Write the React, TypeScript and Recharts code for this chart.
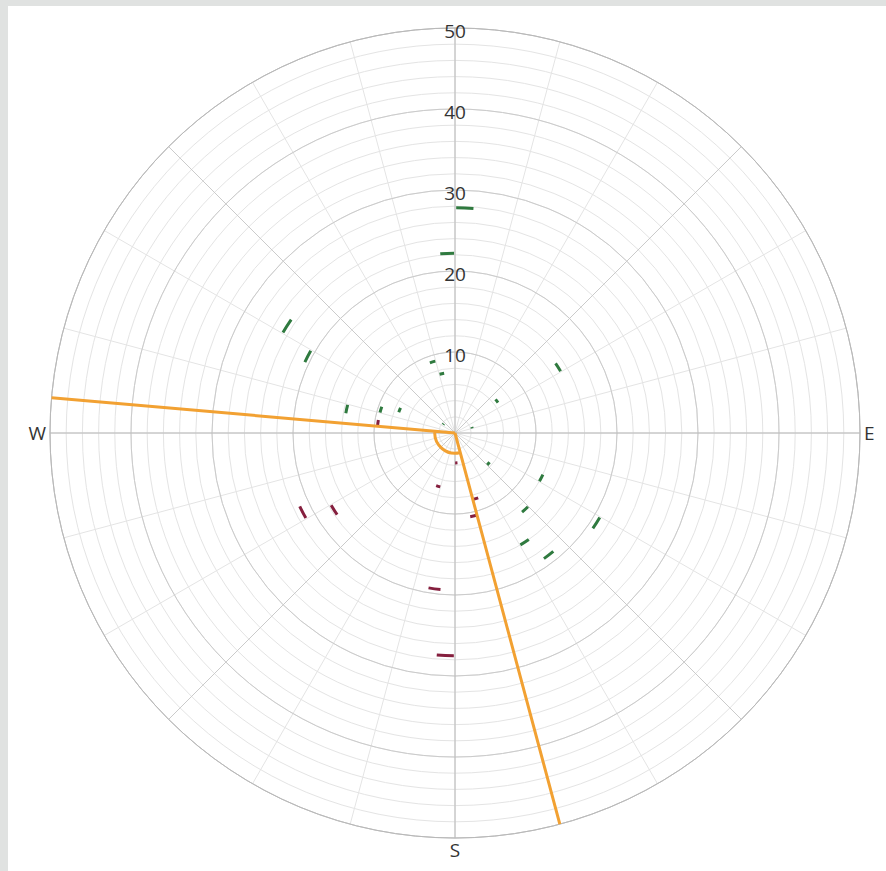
import React from 'react';
import { RadarChart, Radar, PolarGrid, PolarAngleAxis, PolarRadiusAxis } from 'recharts';

// 5-degree direction bins, compass degrees (0 = north, clockwise)
const BIN_WIDTH = 5;
const BINS = Array.from({ length: 360 / BIN_WIDTH }, (_, i) => i * BIN_WIDTH);

const GREEN_BINS = [0, 355, 300, 295, 280, 285, 290, 340, 345, 55, 50, 130, 115, 135, 145, 140, 120, 70, 305];
const GREEN_VALUES = [27.8, 22.2, 24.6, 20.5, 13.7, 9.6, 7.4, 9.2, 7.5, 15.1, 6.5, 5.6, 12.0, 12.8, 16.0, 19.0, 20.7, 2.2, 1.8];

const RED_BINS = [275, 160, 165, 195, 175, 240, 235, 185, 180];
const RED_VALUES = [9.6, 8.5, 10.5, 6.9, 3.7, 21.2, 17.7, 19.4, 27.5];

const SECTOR_EDGES = [165, 275];
const SECTOR_REACH = 50;
const SECTOR_ARC = 2.5;

const MAX_RADIUS = 50;
const RADIUS_TICKS = [0, 2, 4, 6, 8, 10, 12, 14, 16, 18, 20, 22, 24, 26, 28, 30, 32, 34, 36, 38, 40, 42, 44, 46, 48, 50];
const RADIUS_LABELS = [10, 20, 30, 40, 50];
const COMPASS_LABELS: Record<number, string> = { 90: 'E', 180: 'S', 270: 'W' };

const MINOR_ANGLES = Array.from({ length: 24 }, (_, i) => i * 15);
const MAJOR_ANGLES = [45, 135, 225, 315];
const CARDINAL_ANGLES = [0, 90, 180, 270];
const MAJOR_RADII = [10, 20, 30, 40, 50];

const GREEN = '#2f7a3f';
const RED = '#851f3e';
const ORANGE = '#f2a132';
const FONT = '"Open Sans", "Noto Sans", sans-serif';

const W = 878;
const H = 865;
const CX = 447;
const CY = 427;
const R = 405;

const data = BINS.map((bin) => {
  const g = GREEN_BINS.indexOf(bin);
  const r = RED_BINS.indexOf(bin);
  return {
    bin,
    green: g >= 0 ? GREEN_VALUES[g] : null,
    red: r >= 0 ? RED_VALUES[r] : null,
    sector: SECTOR_EDGES.includes(bin) ? SECTOR_REACH : null,
  };
});

const RAD = Math.PI / 180;
const polar = (cx: number, cy: number, r: number, a: number) => ({
  x: cx + r * Math.cos(-a * RAD),
  y: cy + r * Math.sin(-a * RAD),
});

// compass degrees -> recharts degrees (counter-clockwise from east)
const toChart = (deg: number) => 90 - deg;
const px = (v: number) => (v / MAX_RADIUS) * R;

function markShape(color: string) {
  return (props: any) => {
    const pts = (props.points || []).filter((p: any) => p.value != null && Number.isFinite(p.radius));
    return (
      <g>
        {pts.map((p: any, i: number) => {
          const a = polar(p.cx, p.cy, p.radius, p.angle - 0.3);
          const b = polar(p.cx, p.cy, p.radius, p.angle - BIN_WIDTH + 0.3);
          return (
            <path
              key={i}
              d={`M${a.x},${a.y} A${p.radius},${p.radius} 0 0 1 ${b.x},${b.y}`}
              stroke={color}
              strokeWidth={3}
              fill="none"
            />
          );
        })}
      </g>
    );
  };
}

const sectorShape = (props: any) => {
  const pts = (props.points || []).filter((p: any) => p.value != null && Number.isFinite(p.radius));
  if (pts.length < 2) return <g />;
  const [p1, p2] = pts;
  const ar = (p1.radius * SECTOR_ARC) / SECTOR_REACH;
  const a = polar(p1.cx, p1.cy, ar, p1.angle);
  const b = polar(p1.cx, p1.cy, ar, p2.angle);
  return (
    <path
      d={`M${p1.cx},${p1.cy} L${p1.x},${p1.y} M${p1.cx},${p1.cy} L${p2.x},${p2.y} M${a.x},${a.y} A${ar},${ar} 0 0 1 ${b.x},${b.y}`}
      stroke={ORANGE}
      strokeWidth={3}
      fill="none"
    />
  );
};

const RadiusTick = (props: any) => {
  const v = props.payload?.value;
  if (!RADIUS_LABELS.includes(v)) return <g />;
  return (
    <text x={props.x} y={props.y + 3} dy="0.35em" textAnchor="middle" fontSize={19} fill="#333" fontFamily={FONT}>
      {v}
    </text>
  );
};

const AngleTick = (props: any) => {
  const label = COMPASS_LABELS[props.payload?.value];
  if (!label) return <g />;
  const bottom = props.payload.value === 180;
  return (
    <text
      x={props.x}
      y={props.y}
      dy={bottom ? '0.8em' : '0.35em'}
      textAnchor={props.textAnchor}
      fontSize={19}
      fill="#333"
      fontFamily={FONT}
    >
      {label}
    </text>
  );
};

export default function App() {
  return (
    <div style={{ position: 'fixed', left: 0, top: 0, width: 886, height: 871, background: '#e0e2e1' }}>
      <div style={{ position: 'absolute', left: 8, top: 6, width: W, height: H, background: '#fff' }}>
        <RadarChart width={W} height={H} data={data} cx={CX} cy={CY} outerRadius={R} startAngle={90} endAngle={-270}>
          <PolarGrid
            gridType="circle"
            polarAngles={MINOR_ANGLES.map(toChart)}
            polarRadius={RADIUS_TICKS.filter((v) => v > 0).map(px)}
            stroke="#e4e4e4"
            strokeWidth={1}
          />
          <PolarGrid
            gridType="circle"
            polarAngles={MAJOR_ANGLES.map(toChart)}
            polarRadius={MAJOR_RADII.map(px)}
            stroke="#cbcbcb"
            strokeWidth={1}
          />
          <PolarGrid
            gridType="circle"
            polarAngles={CARDINAL_ANGLES.map(toChart)}
            polarRadius={[px(MAX_RADIUS)]}
            stroke="#b8b8b8"
            strokeWidth={1}
          />
          <PolarAngleAxis dataKey="bin" tick={AngleTick} tickLine={false} axisLine={false} tickSize={4} />
          <PolarRadiusAxis
            angle={90}
            domain={[0, MAX_RADIUS]}
            ticks={RADIUS_TICKS}
            tick={RadiusTick}
            axisLine={false}
            tickLine={false}
          />
          <Radar dataKey="green" isAnimationActive={false} shape={markShape(GREEN)} />
          <Radar dataKey="red" isAnimationActive={false} shape={markShape(RED)} />
          <Radar dataKey="sector" isAnimationActive={false} shape={sectorShape} />
        </RadarChart>
      </div>
    </div>
  );
}
